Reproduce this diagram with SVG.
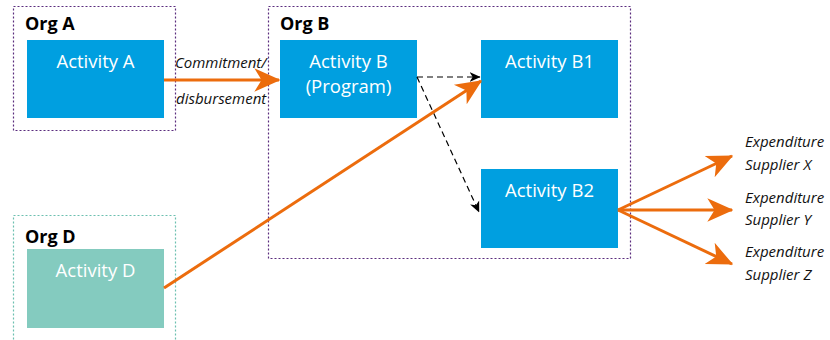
<svg xmlns="http://www.w3.org/2000/svg" width="830" height="340" viewBox="0 0 830 340">
<style>
.org{fill:none;stroke:#5b2d7e;stroke-width:1.2;stroke-dasharray:2 2}
.orgd{fill:none;stroke:#6cc0b0;stroke-width:1.2;stroke-dasharray:2 2}
.act{fill:#009fe0}
.actd{fill:#84cbbf}
.ot{font-family:"Open Sans","Noto Sans",sans-serif;font-weight:bold;font-size:18px;fill:#000}
.at{font-family:"Open Sans","Noto Sans",sans-serif;font-size:18.5px;fill:#fff;text-anchor:middle}
.lt{font-family:"Open Sans","Noto Sans",sans-serif;font-style:italic;font-size:15px;fill:#111}
.oa{stroke:#ec6c0d;stroke-width:3;fill:none}
.da{stroke:#000;stroke-width:1.2;fill:none;stroke-dasharray:6 4}
</style>
<defs>
<marker id="ohb" viewBox="0 0 10 10" refX="9.5" refY="5" markerWidth="26" markerHeight="26" orient="auto" markerUnits="userSpaceOnUse">
<path d="M0,0.5 L10,5 L0,9.5 L2.8,5 Z" fill="#ec6c0d"/>
</marker>
<marker id="kh" viewBox="0 0 10 10" refX="9.5" refY="5" markerWidth="11" markerHeight="11" orient="auto" markerUnits="userSpaceOnUse">
<path d="M0,0.5 L10,5 L0,9.5 L2.8,5 Z" fill="#000"/>
</marker>
</defs>
<g id="orgA">
<rect class="org" x="13.5" y="6.5" width="162" height="124"/>
<text class="ot" x="25" y="30">Org A</text>
</g>
<g id="orgB">
<rect class="org" x="268.5" y="6.5" width="362" height="252"/>
<text class="ot" x="280" y="30">Org B</text>
</g>
<g id="orgD">
<rect class="orgd" x="13.5" y="215.5" width="162" height="130"/>
<text class="ot" x="25" y="243">Org D</text>
</g>
<g id="activityA">
<rect class="act" x="27" y="40" width="137" height="78"/>
<text class="at" x="95.5" y="68">Activity A</text>
</g>
<g id="activityB">
<rect class="act" x="280" y="40" width="137" height="78"/>
<text class="at" x="348.5" y="68">Activity B</text>
<text class="at" x="348.5" y="93">(Program)</text>
</g>
<g id="activityB1">
<rect class="act" x="481" y="40" width="137" height="78"/>
<text class="at" x="549.5" y="68">Activity B1</text>
</g>
<g id="activityB2">
<rect class="act" x="481" y="169" width="137" height="79"/>
<text class="at" x="549.5" y="197">Activity B2</text>
</g>
<g id="activityD">
<rect class="actd" x="27" y="249" width="137" height="79"/>
<text class="at" x="95.5" y="277">Activity D</text>
</g>
<g id="connectors">
<line class="oa" x1="164" y1="80" x2="279" y2="80" marker-end="url(#ohb)"/>
<line class="da" x1="417" y1="77" x2="480" y2="77" marker-end="url(#kh)"/>
<line class="da" x1="417" y1="77" x2="479" y2="212" marker-end="url(#kh)"/>
<line class="oa" x1="164" y1="288" x2="481" y2="81" marker-end="url(#ohb)"/>
<line class="oa" x1="618" y1="210" x2="732" y2="156" marker-end="url(#ohb)"/>
<line class="oa" x1="618" y1="210" x2="732" y2="210" marker-end="url(#ohb)"/>
<line class="oa" x1="618" y1="210" x2="732" y2="264" marker-end="url(#ohb)"/>
<text class="lt" x="175" y="68">Commitment/</text>
<text class="lt" x="176" y="104">disbursement</text>
</g>
<g id="labels">
<text class="lt" x="745" y="147">Expenditure</text>
<text class="lt" x="745" y="170">Supplier X</text>
<text class="lt" x="745" y="203">Expenditure</text>
<text class="lt" x="745" y="225">Supplier Y</text>
<text class="lt" x="745" y="257">Expenditure</text>
<text class="lt" x="745" y="280">Supplier Z</text>
</g>
</svg>
